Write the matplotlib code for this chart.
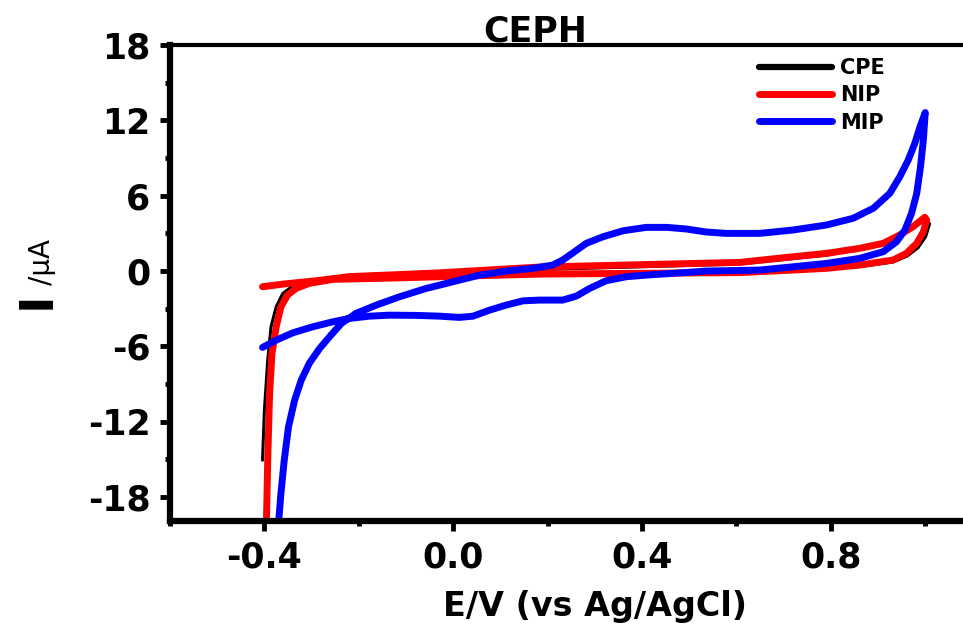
import matplotlib
matplotlib.use("Agg")
import matplotlib.pyplot as plt
from matplotlib.ticker import MultipleLocator

# Cyclic voltammograms (E in V vs Ag/AgCl, I in µA)
cpe_E = [-0.404, -0.290, -0.220, -0.029, 0.183, 0.607, 0.791, 0.861, 0.911, 0.946,
         0.974, 1.004, 1.009, 1.001, 0.985, 0.962, 0.932, 0.861, 0.607, 0.183,
         -0.029, -0.135, -0.255, -0.340, -0.361, -0.375, -0.386, -0.393, -0.400, -0.404]
cpe_I = [-1.12, -0.66, -0.40, -0.12, 0.12, 0.56, 1.27, 1.75, 2.23, 2.83,
         3.51, 4.10, 3.75, 2.75, 1.87, 1.20, 0.72, 0.36, 0.00, -0.20,
         -0.40, -0.54, -0.68, -1.20, -1.78, -2.84, -4.44, -7.09, -11.08, -15.06]

nip_E = [-0.404, -0.361, -0.290, -0.220, -0.114, -0.029, 0.183, 0.607, 0.720, 0.791,
         0.861, 0.911, 0.946, 0.974, 0.999, 1.003, 0.996, 0.982, 0.960, 0.932,
         0.861, 0.791, 0.720, 0.607, 0.183, -0.029, -0.135, -0.255, -0.305, -0.333,
         -0.351, -0.365, -0.375, -0.384, -0.389, -0.393, -0.396]
nip_I = [-1.25, -1.04, -0.77, -0.44, -0.28, -0.14, 0.32, 0.69, 1.14, 1.41,
         1.81, 2.21, 2.87, 3.53, 4.28, 4.06, 3.13, 2.21, 1.41, 0.88,
         0.48, 0.22, 0.08, -0.12, -0.24, -0.45, -0.56, -0.66, -0.98, -1.38,
         -1.91, -2.84, -4.44, -6.56, -9.75, -15.06, -20.5]

mip_E = [-0.371, -0.365, -0.358, -0.349, -0.336, -0.322, -0.305, -0.283, -0.259, -0.237,
         -0.206, -0.163, -0.114, -0.057, -0.029, 0.013, 0.056, 0.112, 0.169, 0.211,
         0.232, 0.254, 0.282, 0.317, 0.360, 0.409, 0.452, 0.494, 0.536, 0.579,
         0.649, 0.720, 0.791, 0.847, 0.890, 0.925, 0.946, 0.964, 0.978, 0.989,
         1.000, 0.996, 0.990, 0.982, 0.971, 0.957, 0.939, 0.911, 0.861, 0.791,
         0.720, 0.649, 0.536, 0.466, 0.409, 0.367, 0.324, 0.289, 0.261, 0.232,
         0.183, 0.148, 0.112, 0.077, 0.042, 0.013, -0.029, -0.078, -0.135, -0.177,
         -0.220, -0.255, -0.298, -0.340, -0.375, -0.404]
mip_I = [-20.5, -17.71, -15.06, -12.41, -10.28, -8.69, -7.35, -6.16, -5.10, -4.17,
         -3.37, -2.71, -2.05, -1.38, -1.12, -0.72, -0.32, 0.00, 0.22, 0.48,
         0.88, 1.46, 2.21, 2.73, 3.21, 3.48, 3.48, 3.35, 3.11, 3.00,
         3.00, 3.27, 3.67, 4.20, 5.00, 6.19, 7.51, 8.84, 10.18, 11.50,
         12.62, 10.44, 8.31, 6.19, 4.60, 3.27, 2.33, 1.54, 1.01, 0.61,
         0.34, 0.08, 0.00, -0.18, -0.32, -0.45, -0.77, -1.38, -1.99, -2.31,
         -2.31, -2.37, -2.71, -3.11, -3.59, -3.69, -3.59, -3.53, -3.51, -3.59,
         -3.77, -4.04, -4.44, -4.92, -5.50, -6.08]

labels = ["CPE", "NIP", "MIP"]
colors = ["#000000", "#ff0000", "#0000ff"]
widths = [2.2, 5, 5]

fig = plt.figure(figsize=(9.63, 6.25), dpi=100)
ax = fig.add_axes([170 / 963, 1 - 521 / 625, 1 - 170 / 963, (521 - 45) / 625])

for (E, I), lab, col, w in zip([(cpe_E, cpe_I), (nip_E, nip_I), (mip_E, mip_I)],
                               labels, colors, widths):
    ax.plot(E, I, color=col, lw=w, label=lab, solid_capstyle="round",
            solid_joinstyle="round")

ax.set_xlim(-0.6, 1.08)
ax.set_ylim(-19.9, 18)
ax.xaxis.set_minor_locator(MultipleLocator(0.2))
ax.yaxis.set_minor_locator(MultipleLocator(3))
ax.set_xticks([-0.4, 0.0, 0.4, 0.8])
ax.set_xticklabels(["-0.4", "0.0", "0.4", "0.8"])
ax.set_yticks([18, 12, 6, 0, -6, -12, -18])
ax.set_yticklabels(["18", "12", "6", "0", "-6", "-12", "-18"])

for side in ["left", "bottom"]:
    ax.spines[side].set_linewidth(4.5)
ax.spines["top"].set_linewidth(3)
ax.spines["right"].set_visible(False)

ax.tick_params(which="major", direction="out", length=7, width=3.5, pad=7,
               labelsize=25)
ax.tick_params(which="minor", direction="out", length=3.5, width=3.5)
for lbl in ax.get_xticklabels() + ax.get_yticklabels():
    lbl.set_fontweight("bold")

ax.set_xlabel("E/V (vs Ag/AgCl)", fontsize=24, fontweight="bold", va="top")
ax.xaxis.set_label_coords((595 - 170) / (963 - 170), (521 - 590) / 476)

fig.text(50 / 963, 1 - 300 / 625, "I", rotation=90, rotation_mode="anchor",
         ha="center", va="baseline", fontsize=34, fontweight="bold")
fig.text(50 / 963, 1 - 262 / 625, "/\u03bcA", rotation=90, rotation_mode="anchor",
         ha="center", va="baseline", fontsize=20)

fig.text(535 / 963, 1 - 42 / 625, "CEPH", ha="center", va="baseline",
         fontsize=25, fontweight="bold")

leg = ax.legend(loc="upper left", bbox_to_anchor=(759 / 963, 1 - 58 / 625),
                bbox_transform=fig.transFigure, frameon=False,
                prop={"weight": "bold", "size": 15}, handlelength=3.5,
                handletextpad=0.4, labelspacing=0.35, borderpad=0,
                borderaxespad=0)
for h in leg.get_lines():
    h.set_linewidth(5)
leg.get_lines()[0].set_linewidth(4.5)

fig.savefig("out.png", dpi=100, facecolor="white")
